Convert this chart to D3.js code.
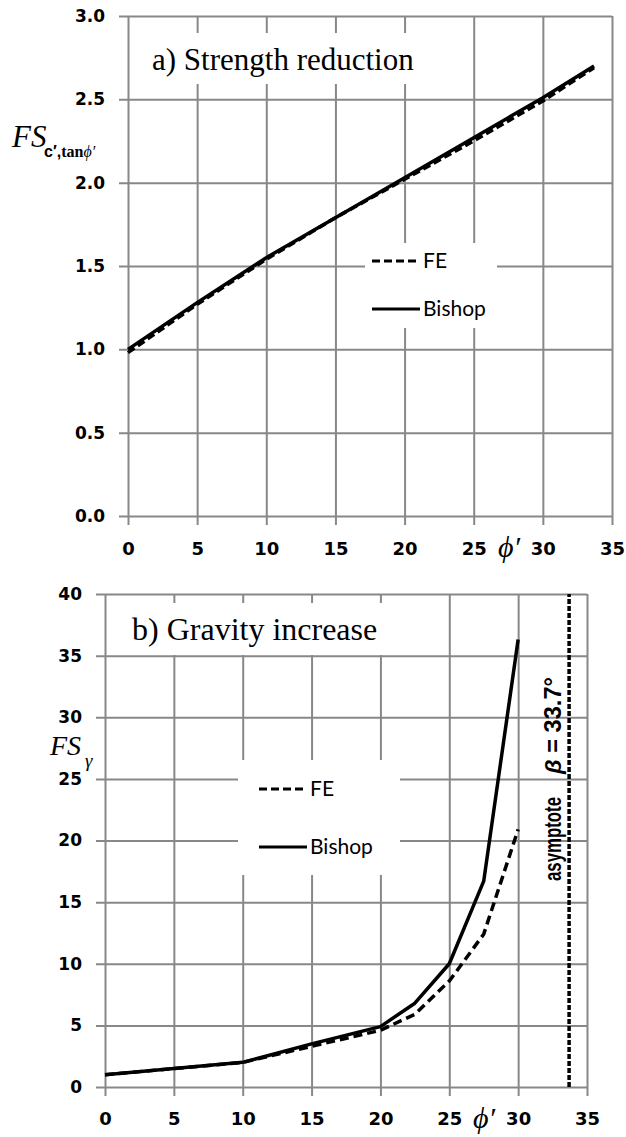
<!DOCTYPE html>
<html>
<head>
<meta charset="utf-8">
<script src="https://cdn.jsdelivr.net/npm/d3@7"></script>
<style>
  body { margin: 0; background: #fff; }
  .tick line { stroke: #888; stroke-width: 2; }
  .tick text { font-family: "DejaVu Sans", sans-serif; font-weight: bold; font-size: 17px; fill: #000; }
  .title { font-family: "Liberation Serif", serif; fill: #000; }
  .legend text { font-family: Lato, sans-serif; font-size: 21px; fill: #000; }
  .serif-it { font-family: "Liberation Serif", serif; font-style: italic; fill: #000; }
  .note { font-family: "Liberation Sans", sans-serif; font-weight: bold; font-size: 23px; fill: #000; }
</style>
</head>
<body>
<svg id="chart" width="626" height="1137"></svg>
<script>
// shared x ticks (friction angle, degrees)
const xTicks = [0, 5, 10, 15, 20, 25, 30, 35];

// a) strength reduction
const phiA = [0, 5, 10, 15, 20, 25, 30, 33.7];
const feA = [0.98, 1.27, 1.54, 1.79, 2.02, 2.25, 2.49, 2.69];
const bishopA = [1.0, 1.28, 1.55, 1.79, 2.03, 2.27, 2.51, 2.7];
const yTicksA = [0, 0.5, 1.0, 1.5, 2.0, 2.5, 3.0];

// b) gravity increase
const phiB = [0, 5, 10, 15, 20, 22.5, 25, 27.5, 30];
const feB = [1.0, 1.5, 2.0, 3.3, 4.6, 5.9, 8.6, 12.4, 20.9];
const bishopB = [1.0, 1.5, 2.0, 3.5, 4.9, 6.8, 10.0, 16.7, 36.3];
const yTicksB = [0, 5, 10, 15, 20, 25, 30, 35, 40];
const asymptotePhi = 33.7;

const seriesNames = ["FE", "Bishop"];

const svg = d3.select("#chart");
svg.append("rect").attr("width", 626).attr("height", 1137).attr("fill", "#fff");

function drawPanel(p) {
  const x = d3.scaleLinear().domain([0, 35]).range([p.left, p.right]);
  const y = d3.scaleLinear().domain([0, p.yMax]).range([p.bottom, p.top]);
  const g = svg.append("g");

  // gridlines + tick labels (ticks stick out 9px)
  g.append("g")
    .attr("transform", `translate(${p.left - 9},0)`)
    .call(d3.axisLeft(y).tickValues(p.yTicks).tickFormat(p.yFmt)
      .tickSize(-(p.right - p.left + 9)).tickPadding(14))
    .call(a => a.select(".domain").remove());
  g.append("g")
    .attr("transform", `translate(0,${p.bottom + 9})`)
    .call(d3.axisBottom(x).tickValues(xTicks).tickFormat(d3.format("d"))
      .tickSize(-(p.bottom - p.top + 9)).tickPadding(p.xPad))
    .call(a => a.selectAll(".tick text").style("font-size", "18px"))
    .call(a => a.select(".domain").remove());

  // title with white box
  g.append("rect").attr("x", p.titleBox[0]).attr("y", p.titleBox[1])
    .attr("width", p.titleBox[2]).attr("height", p.titleBox[3]).attr("fill", "#fff");
  g.append("text").attr("class", "title")
    .attr("x", p.titleX).attr("y", p.titleY)
    .attr("font-size", p.titleSize)
    .text(p.title);

  // legend
  const lg = g.append("g").attr("class", "legend");
  lg.append("rect").attr("x", p.legBox[0]).attr("y", p.legBox[1])
    .attr("width", p.legBox[2]).attr("height", p.legBox[3]).attr("fill", "#fff");
  seriesNames.forEach((name, i) => {
    const ly = p.legY[i];
    lg.append("line")
      .attr("x1", p.legX).attr("x2", p.legX + 48)
      .attr("y1", ly).attr("y2", ly)
      .attr("stroke", "#000").attr("stroke-width", 3)
      .attr("stroke-dasharray", i === 0 ? "8,4" : null);
    lg.append("text").attr("x", p.legX + 51).attr("y", ly).attr("dy", "0.35em").text(name);
  });

  // data lines
  const line = d3.line().x(d => x(d[0])).y(d => y(d[1]));
  g.append("path")
    .datum(p.phi.map((v, i) => [v, p.bishop[i]]))
    .attr("d", line).attr("fill", "none")
    .attr("stroke", "#000").attr("stroke-width", 3.5).attr("stroke-linejoin", "round");
  g.append("path")
    .datum(p.phi.map((v, i) => [v, p.fe[i]]))
    .attr("d", line).attr("fill", "none")
    .attr("stroke", "#000").attr("stroke-width", 3.5)
    .attr("stroke-dasharray", p.feDash);

  // x axis symbol
  g.append("text").attr("class", "serif-it")
    .attr("x", p.phiLabel[0]).attr("y", p.phiLabel[1])
    .attr("font-size", 30).text("ϕ′");

  return { g, x, y };
}

// panel a
const a = drawPanel({
  left: 128, right: 612, top: 16, bottom: 516,
  yMax: 3, yTicks: yTicksA, yFmt: d3.format(".1f"), xPad: 17,
  title: "a) Strength reduction", titleX: 152, titleY: 70, titleSize: 31,
  titleBox: [140, 33, 282, 51],
  legBox: [365, 243, 132, 85], legX: 372, legY: [261, 309],
  phi: phiA, fe: feA, bishop: bishopA, feDash: "8,4",
  phiLabel: [498, 557]
});

// y label a: FS_{c',tan phi'}
svg.append("text").attr("class", "serif-it").attr("x", 12).attr("y", 147)
  .attr("font-size", 31).text("FS");
const suba = svg.append("text").attr("x", 44).attr("y", 157).attr("font-size", 16).attr("fill", "#000");
suba.append("tspan").attr("font-family", "Liberation Sans, sans-serif").attr("font-weight", "bold").text("c′,");
suba.append("tspan").attr("font-family", "Liberation Serif, serif").attr("font-weight", "bold").text("tan");
suba.append("tspan").attr("font-family", "Liberation Serif, serif").attr("font-style", "italic").text("ϕ′");

// panel b
const b = drawPanel({
  left: 105, right: 587, top: 594, bottom: 1087,
  yMax: 40, yTicks: yTicksB, yFmt: d3.format("d"), xPad: 16,
  title: "b) Gravity increase", titleX: 132, titleY: 640, titleSize: 32,
  titleBox: [122, 603, 268, 52],
  legBox: [238, 760, 162, 115], legX: 259, legY: [789, 847],
  phi: phiB, fe: feB, bishop: bishopB, feDash: "9,5",
  phiLabel: [473, 1128]
});

// asymptote
b.g.append("line")
  .attr("x1", b.x(asymptotePhi)).attr("x2", b.x(asymptotePhi))
  .attr("y1", b.y(0)).attr("y2", b.y(40))
  .attr("stroke", "#000").attr("stroke-width", 3.5).attr("stroke-dasharray", "5,2");
b.g.append("text").attr("class", "note")
  .attr("transform", "translate(561,881) rotate(-90)")
  .attr("textLength", 84).attr("lengthAdjust", "spacingAndGlyphs")
  .text("asymptote");
const beta = b.g.append("text").attr("class", "note")
  .attr("transform", "translate(561,774) rotate(-90)")
  .attr("textLength", 97).attr("lengthAdjust", "spacingAndGlyphs");
beta.append("tspan").attr("font-style", "italic").text("β");
beta.append("tspan").text(" = 33.7°");

// y label b: FS_gamma
svg.append("text").attr("class", "serif-it").attr("x", 50).attr("y", 755)
  .attr("font-size", 28).text("FS");
svg.append("text").attr("class", "serif-it").attr("x", 85).attr("y", 767)
  .attr("font-size", 19).text("γ");
</script>
</body>
</html>
